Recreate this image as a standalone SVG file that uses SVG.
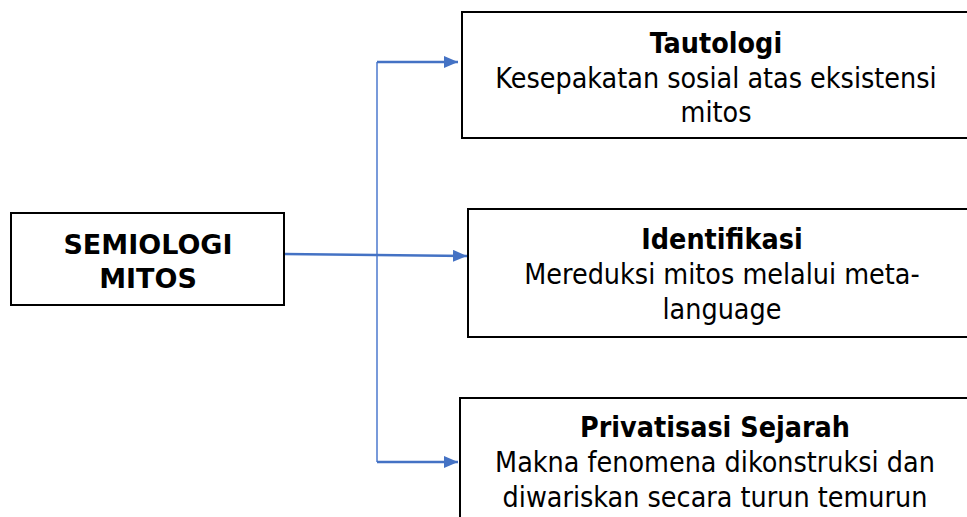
<svg xmlns="http://www.w3.org/2000/svg" width="967" height="517" viewBox="0 0 967 517">
<defs>
<marker id="arr" markerWidth="14" markerHeight="12" refX="14" refY="6" orient="auto" markerUnits="userSpaceOnUse">
<path d="M0,0 L14,6 L0,12 Z" fill="#4472C4"/>
</marker>
<style>
.box{fill:#fff;stroke:#000;stroke-width:2}
.t{font-family:"DejaVu Sans Condensed","DejaVu Sans",sans-serif;font-size:28.4px;fill:#000;text-anchor:middle}
.b{font-weight:bold}
.l{font-family:"DejaVu Sans",sans-serif;font-size:27px;font-weight:bold;fill:#000;text-anchor:middle}
.c{stroke:#4472C4;stroke-width:2.5;fill:none}
.v{stroke:#6A8FD6;stroke-width:1.8;fill:none}
</style>
</defs>
<rect width="967" height="517" fill="#fff"/>
<g id="connectors">
<path class="v" d="M377,62 V462"/>
<path class="c" d="M377,62 H458" marker-end="url(#arr)"/>
<path class="c" d="M284,254 L467,256" marker-end="url(#arr)"/>
<path class="c" d="M377,462 H458" marker-end="url(#arr)"/>
</g>
<g id="semiologi">
<rect class="box" x="11" y="213" width="273" height="92"/>
<text class="l" x="148" y="254">SEMIOLOGI</text>
<text class="l" x="148" y="288">MITOS</text>
</g>
<g id="tautologi">
<rect class="box" x="462" y="12" width="510" height="126"/>
<text class="t b" x="716" y="53">Tautologi</text>
<text class="t" x="716" y="88">Kesepakatan sosial atas eksistensi</text>
<text class="t" x="716" y="122">mitos</text>
</g>
<g id="identifikasi">
<rect class="box" x="468" y="209" width="504" height="128"/>
<text class="t b" x="722" y="249">Identifikasi</text>
<text class="t" x="722" y="284">Mereduksi mitos melalui meta-</text>
<text class="t" x="722" y="319">language</text>
</g>
<g id="privatisasi">
<rect class="box" x="460" y="398" width="512" height="130"/>
<text class="t b" x="715" y="437">Privatisasi Sejarah</text>
<text class="t" x="715" y="472">Makna fenomena dikonstruksi dan</text>
<text class="t" x="715" y="507">diwariskan secara turun temurun</text>
</g>
</svg>
